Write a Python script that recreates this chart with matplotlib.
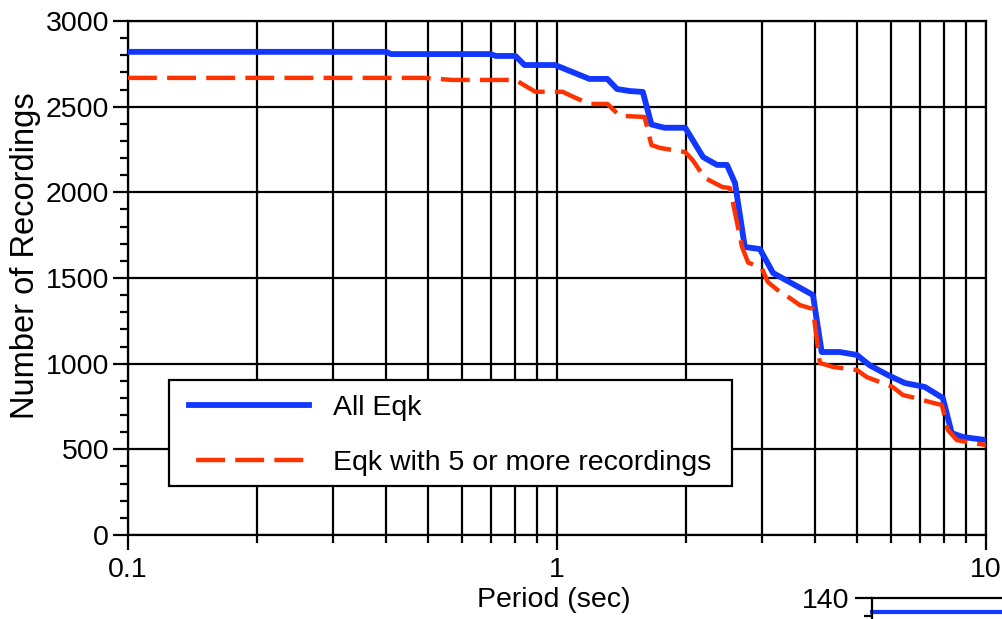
import matplotlib
matplotlib.use('Agg')
import matplotlib.pyplot as plt
from matplotlib.patches import Rectangle
from matplotlib.ticker import FixedLocator, MultipleLocator, NullFormatter, NullLocator

plt.rcParams['font.family'] = ['Liberation Sans', 'DejaVu Sans']

# number of usable recordings vs. spectral period
period_all = [0.1, 0.40, 0.41, 0.70, 0.72, 0.80, 0.84, 0.99, 1.19, 1.31, 1.38, 1.48,
              1.585, 1.66, 1.78, 1.99, 2.19, 2.36, 2.49, 2.60, 2.74, 2.97, 3.19, 3.95,
              4.14, 4.56, 5.00, 5.36, 5.90, 6.47, 7.20, 7.93, 8.32, 8.83, 10.0]
count_all = [2820, 2820, 2807, 2807, 2796, 2796, 2743, 2743, 2662, 2662, 2603, 2591,
             2586, 2396, 2377, 2377, 2206, 2160, 2160, 2054, 1681, 1669, 1529, 1401,
             1068, 1068, 1051, 990, 934, 887, 864, 800, 595, 572, 554]

period_5rec = [0.1, 0.49, 0.57, 0.80, 0.89, 1.03, 1.09, 1.19, 1.31, 1.40, 1.60, 1.66,
               1.74, 1.99, 2.07, 2.21, 2.43, 2.53, 2.70, 2.79, 3.00, 3.10, 3.31, 3.49,
               3.68, 3.95, 4.10, 4.40, 5.00, 5.27, 6.06, 6.40, 7.00, 7.39, 7.89, 8.15,
               8.55, 9.31, 10.0]
count_5rec = [2668, 2668, 2656, 2656, 2587, 2587, 2558, 2516, 2516, 2447, 2440, 2276,
              2259, 2235, 2189, 2084, 2031, 2025, 1681, 1590, 1559, 1477, 1418, 1383,
              1342, 1319, 1004, 981, 963, 922, 864, 817, 794, 776, 759, 613,
              554, 537, 525]

# next panel (only its top edge shows)
next_period = [0.1, 10.0]
next_count = [132, 132]

x_labels = ['0.1', '1', '10']
x_major = [0.1, 1, 10]
x_minor = [a * d for d in (0.1, 1) for a in range(2, 10)]
y_major = list(range(0, 3001, 500))

blue = '#1238ff'
red = '#ff3300'
fs = 20.5

W, H = 1002, 619
fig = plt.figure(figsize=(W / 100, H / 100), dpi=100)
ax = fig.add_axes([128 / W, (H - 535) / H, 858 / W, 514 / H])

ax.set_xscale('log')
ax.set_xlim(0.1, 10)
ax.set_ylim(0, 3000)

ax.xaxis.set_major_locator(FixedLocator(x_major))
ax.xaxis.set_minor_locator(FixedLocator(x_minor))
ax.set_xticklabels(x_labels)
ax.xaxis.set_minor_formatter(NullFormatter())
ax.yaxis.set_major_locator(FixedLocator(y_major))
ax.yaxis.set_minor_locator(MultipleLocator(100))

ax.grid(True, which='major', axis='both', color='black', lw=1.6)
ax.grid(True, which='minor', axis='x', color='black', lw=1.6)
ax.set_axisbelow(True)

ax.tick_params(which='major', direction='out', length=10.5, width=1.6, labelsize=fs, color='black')
ax.tick_params(which='minor', direction='out', length=5.5, width=1.6)
ax.tick_params(axis='x', which='major', pad=5)
ax.tick_params(axis='y', which='major', pad=3)
for s in ax.spines.values():
    s.set_linewidth(1.6)

ax.plot(period_all, count_all, color=blue, lw=4.2, solid_joinstyle='round',
        label='All Eqk', zorder=3)
ax.plot(period_5rec, count_5rec, color=red, lw=3.2, dashes=(6.5, 2.3),
        label='Eqk with 5 or more recordings', zorder=4)

# legend box drawn on its own so the padding can differ per side
box = Rectangle((169 / W, 1 - 486 / H), (732 - 169) / W, 106 / H, transform=fig.transFigure,
                facecolor='white', edgecolor='black', lw=1.6, zorder=9, clip_on=False)
ax.add_patch(box)
leg = ax.legend(loc='upper left', bbox_to_anchor=(189 / W, 1 - 395 / H),
                bbox_transform=fig.transFigure, fontsize=fs, handlelength=4.2,
                handletextpad=0.85, borderpad=0, labelspacing=1.03,
                borderaxespad=0, frameon=False)
leg.set_zorder(10)
# three whole dashes in the legend sample
leg.legend_handles[1].set_linestyle((7.2, (6.5, 2.3)))

fig.text(554 / W, 1 - 600 / H, 'Period (sec)', fontsize=fs, ha='center', va='center')
fig.text(26 / W, 1 - 256 / H, 'Number of Recordings', fontsize=23.5, ha='center',
         va='center', rotation=90)

# top edge of the panel below
ax2 = fig.add_axes([872 / W, (H - 598) / H - 0.407, 0.86, 0.407])
ax2.set_xscale('log')
ax2.set_xlim(0.1, 10)
ax2.set_ylim(0, 140)
ax2.yaxis.set_major_locator(FixedLocator([140]))
ax2.yaxis.set_minor_locator(MultipleLocator(10))
ax2.xaxis.set_major_locator(NullLocator())
ax2.xaxis.set_minor_locator(NullLocator())
ax2.tick_params(which='major', direction='out', length=12, width=1.6, labelsize=fs, pad=4)
ax2.tick_params(which='minor', direction='out', length=5.5, width=1.6)
ax2.spines['right'].set_visible(False)
ax2.spines['bottom'].set_visible(False)
for s in ax2.spines.values():
    s.set_linewidth(1.6)
ax2.plot(next_period, next_count, color=blue, lw=3, clip_on=False)

fig.savefig('out.png', dpi=100)
